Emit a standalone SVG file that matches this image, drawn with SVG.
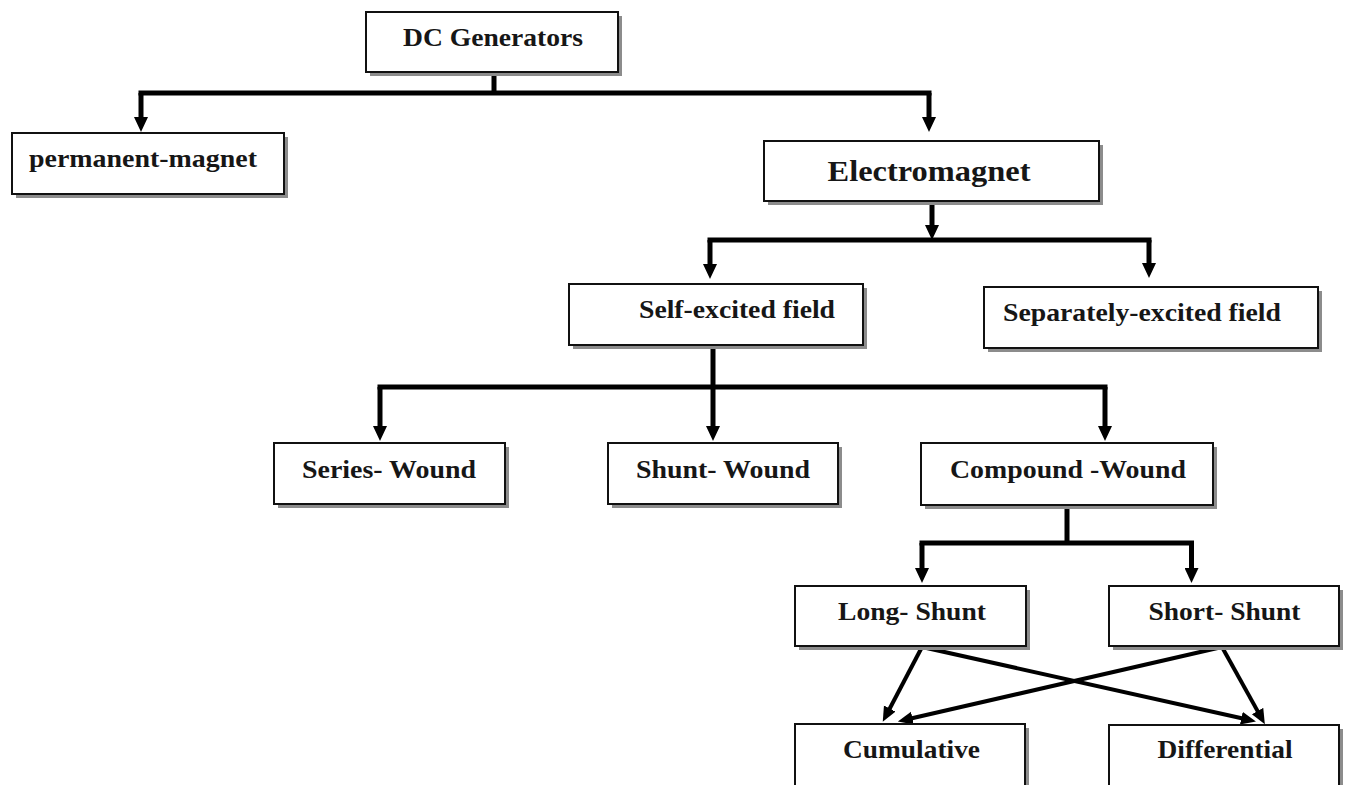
<svg xmlns="http://www.w3.org/2000/svg" width="1346" height="785" viewBox="0 0 1346 785">
<style>
.sh{fill:#8c8c8c}
.bx{fill:#fff;stroke:#111;stroke-width:2}
.t{font-family:"Liberation Serif","Times New Roman",serif;font-weight:bold;font-size:25px;fill:#161616;text-anchor:middle}
.big{font-size:30px}
.ln{fill:none;stroke:#000;stroke-width:5}
.ar{fill:none;stroke:#000;stroke-width:5;marker-end:url(#ah)}
.ad{fill:none;stroke:#000;stroke-width:4;marker-end:url(#ah2)}
</style>
<defs>
<marker id="ah" markerUnits="userSpaceOnUse" markerWidth="16" markerHeight="14" refX="5" refY="7" orient="auto">
<path d="M0,0 L15,7 L0,14 z" fill="#000"/>
</marker>
<marker id="ah2" markerUnits="userSpaceOnUse" markerWidth="16" markerHeight="14" refX="5" refY="6.5" orient="auto">
<path d="M0,0 L15,6.5 L0,13 z" fill="#000"/>
</marker>
</defs>
<rect width="1346" height="785" fill="#fff"/>
<g id="connectors">
<path class="ln" d="M494,72 V93 M138.5,93 H931.5"/>
<path class="ar" d="M141,93 V122"/>
<path class="ar" d="M929,93 V122"/>
<path class="ar" d="M932,201 V230"/>
<path class="ln" d="M707.5,240 H1151.5"/>
<path class="ar" d="M710,240 V269"/>
<path class="ar" d="M1149,240 V268"/>
<path class="ar" d="M713,345 V431"/>
<path class="ln" d="M377.5,387 H1107.5"/>
<path class="ar" d="M380,387 V431"/>
<path class="ar" d="M1105,387 V431"/>
<path class="ln" d="M1067,505 V543 M919.5,543 H1194"/>
<path class="ar" d="M922,543 V573"/>
<path class="ar" d="M1191.5,543 V573"/>
<path class="ad" d="M922,647 L887.4,713"/>
<path class="ad" d="M922,647 L1246.2,719.3"/>
<path class="ad" d="M1222,647 L1260,715.4"/>
<path class="ad" d="M1222,647 L907.6,719.3"/>
</g>
<g id="n-dc"><rect class="sh" x="370" y="16" width="252" height="60"/><rect class="bx" x="366" y="12" width="252" height="60"/><text class="t" x="493" y="46" textLength="180" lengthAdjust="spacingAndGlyphs">DC Generators</text></g>
<g id="n-pm"><rect class="sh" x="16" y="137" width="272" height="61"/><rect class="bx" x="12" y="133" width="272" height="61"/><text class="t" x="143" y="167" textLength="228" lengthAdjust="spacingAndGlyphs">permanent-magnet</text></g>
<g id="n-em"><rect class="sh" x="768" y="145" width="335" height="60"/><rect class="bx" x="764" y="141" width="335" height="60"/><text class="t big" x="929" y="181" textLength="203" lengthAdjust="spacingAndGlyphs">Electromagnet</text></g>
<g id="n-self"><rect class="sh" x="573" y="288" width="294" height="61"/><rect class="bx" x="569" y="284" width="294" height="61"/><text class="t" x="737" y="318" textLength="196" lengthAdjust="spacingAndGlyphs">Self-excited field</text></g>
<g id="n-sep"><rect class="sh" x="988" y="291" width="334" height="61"/><rect class="bx" x="984" y="287" width="334" height="61"/><text class="t" x="1142" y="321" textLength="278" lengthAdjust="spacingAndGlyphs">Separately-excited field</text></g>
<g id="n-series"><rect class="sh" x="278" y="447" width="231" height="61"/><rect class="bx" x="274" y="443" width="231" height="61"/><text class="t" x="389" y="478" textLength="174" lengthAdjust="spacingAndGlyphs">Series- Wound</text></g>
<g id="n-shunt"><rect class="sh" x="612" y="447" width="230" height="61"/><rect class="bx" x="608" y="443" width="230" height="61"/><text class="t" x="723" y="478" textLength="174" lengthAdjust="spacingAndGlyphs">Shunt- Wound</text></g>
<g id="n-compound"><rect class="sh" x="925" y="447" width="292" height="62"/><rect class="bx" x="921" y="443" width="292" height="62"/><text class="t" x="1068" y="478" textLength="236" lengthAdjust="spacingAndGlyphs">Compound -Wound</text></g>
<g id="n-long"><rect class="sh" x="799" y="590" width="231" height="60"/><rect class="bx" x="795" y="586" width="231" height="60"/><text class="t" x="912" y="620" textLength="148" lengthAdjust="spacingAndGlyphs">Long- Shunt</text></g>
<g id="n-short"><rect class="sh" x="1113" y="590" width="230" height="60"/><rect class="bx" x="1109" y="586" width="230" height="60"/><text class="t" x="1224.5" y="620" textLength="152" lengthAdjust="spacingAndGlyphs">Short- Shunt</text></g>
<g id="n-cum"><rect class="sh" x="799" y="728" width="230" height="80"/><rect class="bx" x="795" y="724" width="230" height="80"/><text class="t" x="911.5" y="758" textLength="137" lengthAdjust="spacingAndGlyphs">Cumulative</text></g>
<g id="n-diff"><rect class="sh" x="1113" y="729" width="230" height="80"/><rect class="bx" x="1109" y="725" width="230" height="80"/><text class="t" x="1225" y="758" textLength="135" lengthAdjust="spacingAndGlyphs">Differential</text></g>
</svg>
